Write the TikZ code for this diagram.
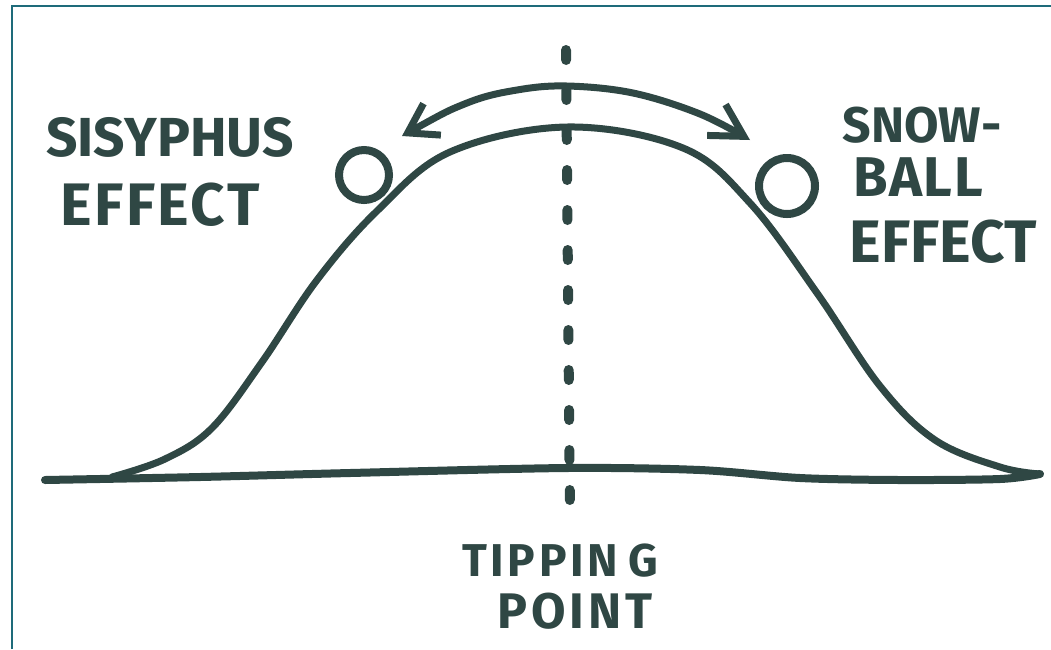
\documentclass[tikz,border=0pt]{standalone}
\usepackage{fontspec}
\setmainfont{Fira Sans}
\usetikzlibrary{arrows.meta}
\definecolor{ink}{HTML}{2F4744}
\definecolor{frame}{HTML}{1E6B7A}
\begin{document}
\begin{tikzpicture}[x=1pt,y=-1pt,
  inkline/.style={draw=ink,line width=7pt,line cap=round,line join=round},
  label/.style={text=ink,font=\bfseries,inner sep=0pt},
  ballstyle/.style={draw=ink,line width=8pt},
  tipline/.style={draw=ink,line width=10pt,line cap=round,dash pattern=on 10pt off 30pt}]
\useasboundingbox (0,0) rectangle (1051,649);
% frame (top and left only)
\draw[frame,line width=2.5pt] (12,649) -- (12,6) -- (1051,6);
% baseline
\draw[inkline,line width=8pt] plot[smooth,tension=0.5] coordinates
  {(45,480) (200,477) (350,473) (567,468) (700,470) (800,478) (900,480) (1000,479) (1040,474)};
% bell curve
\draw[inkline] plot[smooth,tension=0.6] coordinates
  {(112,477) (165,459) (212,428) (262,362) (317,280) (377,211) (450,152) (567,127) (683,148) (750,203) (817,293) (880,386) (935,440) (1000,467) (1040,474)};
% tipping point dashed line
\coordinate (ttop) at (566,50);
\coordinate (tbot) at (570,520);
\draw[tipline] (ttop) -- (tbot);
% balls
\node[ballstyle,circle,minimum size=50pt,inner sep=0pt] (lball) at (364,175) {};
\node[ballstyle,circle,minimum size=56pt,inner sep=0pt] (rball) at (787,186) {};
% double arrow
\coordinate (al) at (402,136);
\coordinate (ar) at (750,140);
\draw[inkline,{Straight Barb[length=28pt,width=36pt]}-{Straight Barb[length=32pt,width=36pt]}]
  plot[smooth,tension=0.6] coordinates {(al) (467,103) (517,90) (567,86) (633,93) (700,114) (ar)};
% labels
\node[label,font=\bfseries\fontsize{55}{57}\selectfont] (sis) at (170,137) {SISYPHUS};
\node[label,font=\bfseries\fontsize{60}{62}\selectfont\addfontfeature{LetterSpace=4}] (effl) at (160,205) {EFFECT};
\node[label,font=\bfseries\fontsize{50}{52}\selectfont] (snow) at (922,125) {SNOW-};
\node[label,font=\bfseries\fontsize{56}{58}\selectfont\addfontfeature{LetterSpace=3}] (ball) at (918,177) {BALL};
\node[label,font=\bfseries\fontsize{60}{62}\selectfont] (effr) at (943,242) {EFFECT};
\node[label,font=\bfseries\fontsize{46}{48}\selectfont\addfontfeature{LetterSpace=8}] (tip) at (560,561) {TIPPIN\kern10pt G};
\node[label,font=\bfseries\fontsize{50}{52}\selectfont\addfontfeature{LetterSpace=8}] (pt) at (575,611) {POINT};
\end{tikzpicture}
\end{document}
